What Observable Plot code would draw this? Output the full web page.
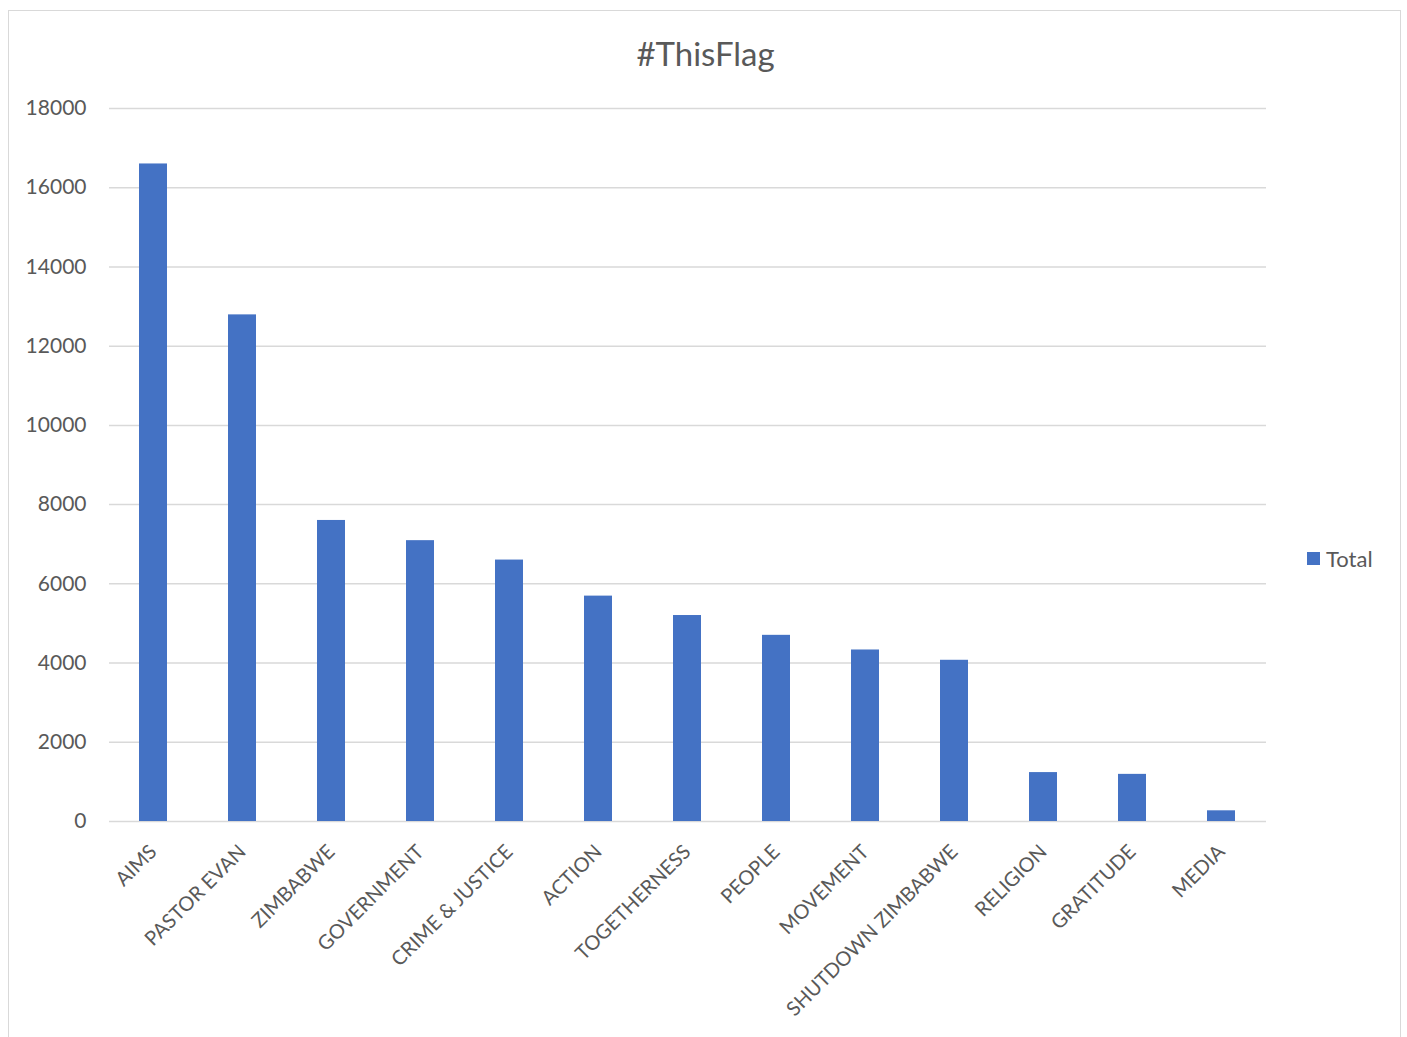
<!DOCTYPE html>
<html>
<head>
<meta charset="utf-8">
<script src="https://cdn.jsdelivr.net/npm/d3@7"></script>
<script src="https://cdn.jsdelivr.net/npm/@observablehq/plot@0.6"></script>
<style>
  html, body { margin: 0; padding: 0; background: #fff; overflow: hidden; }
  #wrap { position: relative; width: 1407px; height: 1037px; font-family: Lato, "Open Sans", sans-serif; color: #595959; }
  #frame { position: absolute; left: 8px; top: 10px; width: 1393px; height: 1040px; border: 1.5px solid #d9d9d9; box-sizing: border-box; }
  #title { position: absolute; left: 0; width: 1411px; top: 33px; text-align: center; font-size: 33px; }
  #legend { position: absolute; left: 1307px; top: 545px; font-size: 22px; display: flex; align-items: center; }
  #legend .sw { width: 13px; height: 13px; background: #4472c4; margin-right: 6px; }
  #chart { position: absolute; left: 0; top: 0; }
</style>
</head>
<body>
<div id="wrap">
  <div id="frame"></div>
  <div id="chart"></div>
  <div id="title">#ThisFlag</div>
  <div id="legend"><div class="sw"></div><span>Total</span></div>
</div>
<script>
const categories = ["AIMS", "PASTOR EVAN", "ZIMBABWE", "GOVERNMENT", "CRIME & JUSTICE", "ACTION", "TOGETHERNESS", "PEOPLE", "MOVEMENT", "SHUTDOWN ZIMBABWE", "RELIGION", "GRATITUDE", "MEDIA"];
const totals = [16600, 12790, 7600, 7090, 6600, 5690, 5200, 4700, 4330, 4070, 1235, 1190, 270];
const yTicks = [0, 2000, 4000, 6000, 8000, 10000, 12000, 14000, 16000, 18000];

const data = categories.map((c, i) => ({category: c, total: totals[i]}));

const chart = Plot.plot({
  width: 1407,
  height: 1037,
  marginLeft: 109,
  marginRight: 141,
  marginTop: 108,
  marginBottom: 216,
  style: {fontFamily: "Lato, 'Open Sans', sans-serif", fontSize: "20px", color: "#595959", background: "transparent"},
  x: {domain: categories, paddingInner: 0.685, paddingOuter: 0.3425, label: null, tickRotate: -45, tickSize: 0, tickPadding: 10},
  y: {domain: [0, 18000], label: null},
  marks: [
    Plot.ruleY(yTicks, {stroke: "#d9d9d9", strokeWidth: 1.5}),
    Plot.barY(data, {x: "category", y: "total", fill: "#4472c4"}),
    Plot.axisY({ticks: yTicks, tickSize: 0, tickPadding: 23, tickFormat: d => String(d), label: null, fontSize: 21}),
    Plot.axisX({tickRotate: -45, tickSize: 0, tickPadding: 27, label: null})
  ]
});
document.getElementById("chart").appendChild(chart);
</script>
</body>
</html>
